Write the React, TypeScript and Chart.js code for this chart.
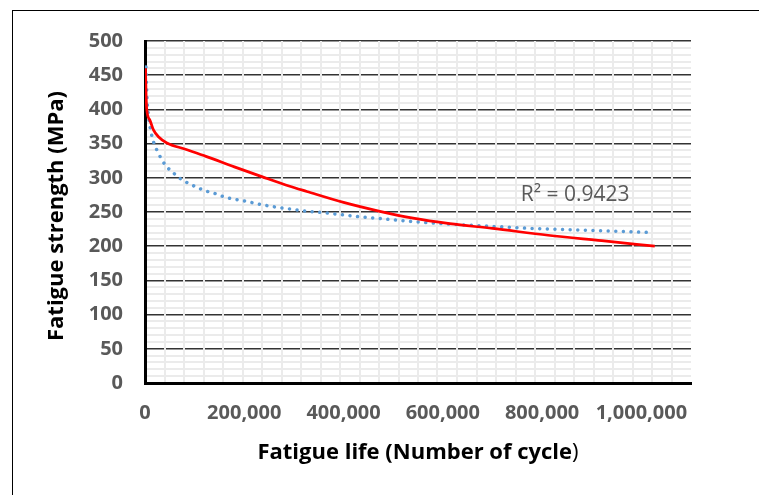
import React, { useEffect, useRef } from 'react';
import { Chart, registerables } from 'chart.js';
Chart.register(...registerables);

// Fatigue curve
const lifeCycles = [1000, 2000, 3500, 10000, 17000, 27000, 44000, 80000, 124000, 180000, 238000, 290000, 326000, 400000, 473000, 540000, 614000, 700000, 812000, 920000, 1027000];
const strengthMPa = [460, 425, 400, 384, 370, 360, 351, 342, 331, 316, 301, 288, 280, 264, 251, 241, 233, 226, 216, 208, 200];

// Dotted trendline
const trendCycles = [2000, 4000, 7000, 10000, 15000, 20000, 27000, 35000, 44000, 56000, 69000, 82000, 96000, 111000, 126000, 141000, 156000, 171000, 201000, 233000, 265000, 297000, 328000, 360000, 420000, 480000, 540000, 620000, 700000, 780000, 860000, 940000, 1020000];
const trendMPa = [462, 416, 391, 375, 358, 347, 336, 325, 316, 308, 300, 294, 289, 284, 280, 277, 273, 270, 266, 261, 257, 254, 251, 249, 244, 240, 236, 232, 229, 226, 224, 222, 220];

// Axis ticks
const xTickStep = 40000;
const xLabelValues = [0, 200000, 400000, 600000, 800000, 1000000];
const xLabelTexts = ['0', '200,000', '400,000', '600,000', '800,000', '1,000,000'];
const yTickStep = 10;
const yLabelStep = 50;
const xMax = 1100000;
const yMax = 500;

const rSquaredText = 'R² = 0.9423';
const xTitleBold = 'Fatigue life (Number of cycle';
const xTitleEnd = ')';
const yTitle = 'Fatigue strength (MPa)';

const FONT = '"Open Sans", "Noto Sans", sans-serif';
const TITLE_SIZE = 22;
const TICK_SIZE = 20;

const isMultiple = (v: number, step: number) => Math.abs(v / step - Math.round(v / step)) < 1e-6;

const textPlugin = {
  id: 'customTexts',
  afterDraw(chart: any) {
    const { ctx, chartArea, scales } = chart;
    ctx.save();
    // x tick labels
    ctx.fillStyle = '#595959';
    ctx.textBaseline = 'middle';
    ctx.textAlign = 'center';
    ctx.font = `bold ${TICK_SIZE}px ${FONT}`;
    xLabelValues.forEach((v, i) => {
      ctx.fillText(xLabelTexts[i], scales.x.getPixelForValue(v), chartArea.bottom + 30);
    });
    // x title
    ctx.fillStyle = '#000';
    ctx.textAlign = 'left';
    ctx.font = `bold ${TITLE_SIZE}px ${FONT}`;
    const w1 = ctx.measureText(xTitleBold).width;
    ctx.font = `${TITLE_SIZE}px ${FONT}`;
    const w2 = ctx.measureText(xTitleEnd).width;
    const cx = (chartArea.left + chartArea.right) / 2;
    const xs = cx - (w1 + w2) / 2;
    const ty = chartArea.bottom + 70;
    ctx.font = `bold ${TITLE_SIZE}px ${FONT}`;
    ctx.fillText(xTitleBold, xs, ty);
    ctx.font = `${TITLE_SIZE}px ${FONT}`;
    ctx.fillText(xTitleEnd, xs + w1, ty);
    // y title
    ctx.save();
    ctx.translate(57, (chartArea.top + chartArea.bottom) / 2 + 4);
    ctx.rotate(-Math.PI / 2);
    ctx.textAlign = 'center';
    ctx.font = `bold ${TITLE_SIZE}px ${FONT}`;
    ctx.fillText(yTitle, 0, 0);
    ctx.restore();
    // R² label
    ctx.fillStyle = '#595959';
    ctx.font = `21px ${FONT}`;
    ctx.textAlign = 'left';
    ctx.fillText(rSquaredText, scales.x.getPixelForValue(757000), scales.y.getPixelForValue(275));
    ctx.restore();
  },
};

export default function App() {
  const ref = useRef<HTMLCanvasElement>(null);
  useEffect(() => {
    if (!ref.current) return;
    const chart = new Chart(ref.current, {
      type: 'scatter',
      data: {
        datasets: [
          {
            label: 'Fatigue',
            data: lifeCycles.map((x, i) => ({ x, y: strengthMPa[i] })),
            showLine: true,
            borderColor: '#FF0000',
            borderWidth: 2.75,
            pointRadius: 0,
            cubicInterpolationMode: 'monotone',
            fill: false,
          },
          {
            label: 'Trend',
            data: trendCycles.map((x, i) => ({ x, y: trendMPa[i] })),
            showLine: true,
            borderColor: '#5B9BD5',
            borderWidth: 3.5,
            borderDash: [0.01, 7.6],
            borderCapStyle: 'round',
            pointRadius: 0,
            cubicInterpolationMode: 'monotone',
            fill: false,
          },
        ],
      },
      options: {
        animation: false,
        responsive: false,
        devicePixelRatio: 1,
        layout: { padding: { top: 41, right: 68, bottom: 0, left: 0 } },
        plugins: { legend: { display: false }, tooltip: { enabled: false } },
        scales: {
          x: {
            type: 'linear',
            min: 0,
            max: xMax,
            afterFit: (s: any) => { s.height = 112; },
            ticks: {
              stepSize: xTickStep,
              autoSkip: false,
              maxRotation: 0,
              minRotation: 0,
              callback: () => '',
            },
            grid: {
              z: -1,
              drawTicks: false,
              color: (c: any) => (c.tick && (c.tick.value === 0 || c.tick.value >= xMax - 1) ? 'rgba(0,0,0,0)' : '#EBEBEB'),
              lineWidth: 2,
            },
            border: { color: '#000', width: 3 },
          },
          y: {
            type: 'linear',
            min: 0,
            max: yMax,
            afterFit: (s: any) => { s.width = 145; },
            ticks: {
              stepSize: yTickStep,
              autoSkip: false,
              padding: 22,
              color: '#595959',
              font: { family: FONT, size: TICK_SIZE, weight: 'bold' },
              callback: (v: any) => (isMultiple(Number(v), yLabelStep) ? String(Math.round(Number(v))) : ''),
            },
            grid: {
              z: -2,
              drawTicks: false,
              color: (c: any) => (c.tick && isMultiple(c.tick.value, yLabelStep) ? '#333333' : '#EBEBEB'),
              lineWidth: (c: any) => (c.tick && isMultiple(c.tick.value, yLabelStep) ? 1.5 : 2),
            },
            border: { color: '#000', width: 3 },
          },
        },
      },
      plugins: [textPlugin],
    } as any);
    return () => chart.destroy();
  }, []);
  return (
    <div style={{ position: 'fixed', left: 0, top: 0, width: 759, height: 495, overflow: 'hidden', background: '#fff' }}>
      <div style={{ position: 'absolute', left: 12, top: 10, width: 800, height: 600, border: '1px solid #000', boxSizing: 'border-box' }} />
      <canvas ref={ref} width={759} height={495} style={{ position: 'absolute', left: 0, top: 0, width: 759, height: 495 }} />
    </div>
  );
}
